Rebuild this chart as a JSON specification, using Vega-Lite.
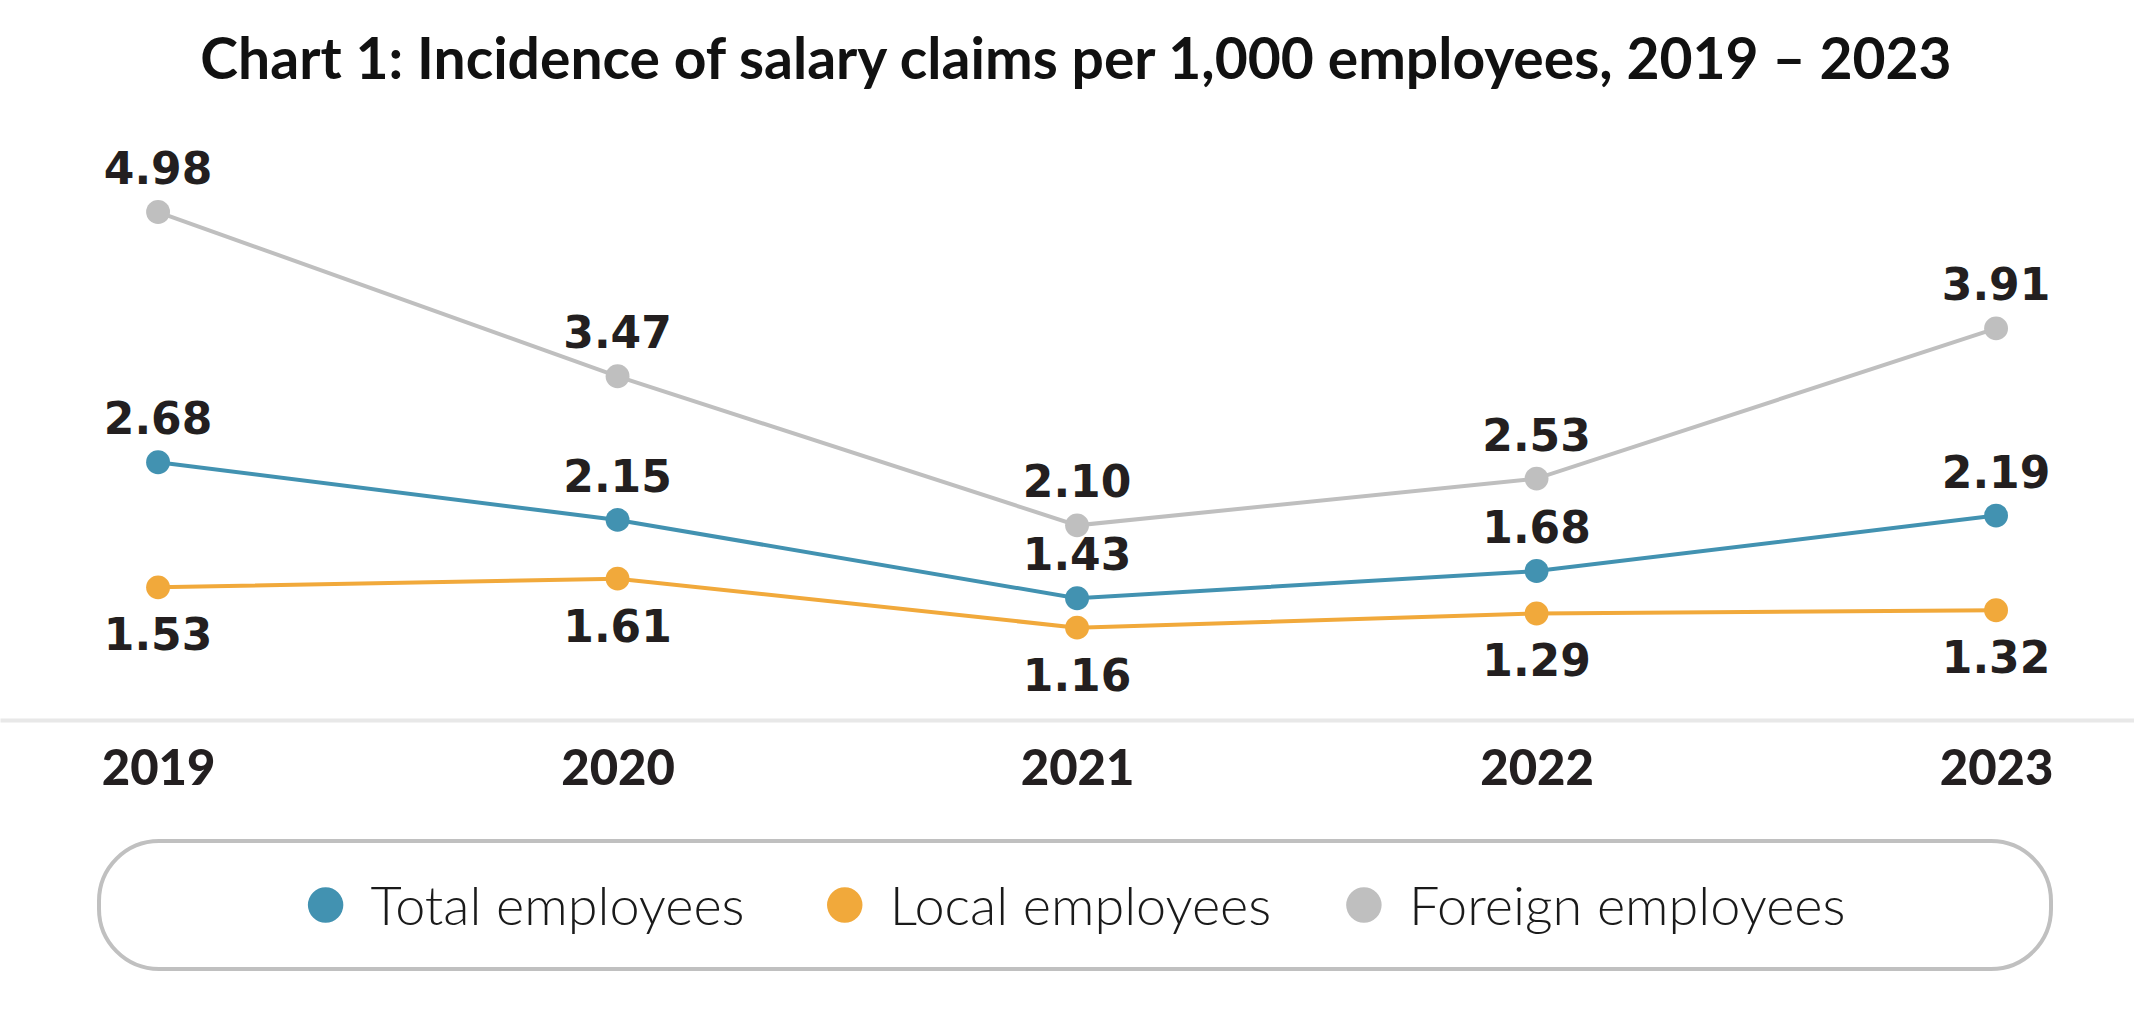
{
  "$schema": "https://vega.github.io/schema/vega-lite/v6.json",
  "padding": {"left": 0, "top": 33, "right": -18, "bottom": 0},
  "background": "white",
  "title": {
    "text": "Chart 1: Incidence of salary claims per 1,000 employees, 2019 – 2023",
    "font": "Lato",
    "fontWeight": "bold",
    "fontSize": 57,
    "color": "#111111",
    "anchor": "middle",
    "dx": 0,
    "offset": 13,
    "baseline": "alphabetic"
  },
  "config": {
    "view": {"stroke": null},
    "axis": {"grid": false}
  },
  "datasets": {
    "claims": [
      {"year": "2019", "series": "Total employees", "value": 2.68, "pos": "above"},
      {"year": "2020", "series": "Total employees", "value": 2.15, "pos": "above"},
      {"year": "2021", "series": "Total employees", "value": 1.43, "pos": "above"},
      {"year": "2022", "series": "Total employees", "value": 1.68, "pos": "above"},
      {"year": "2023", "series": "Total employees", "value": 2.19, "pos": "above"},
      {"year": "2019", "series": "Local employees", "value": 1.53, "pos": "below"},
      {"year": "2020", "series": "Local employees", "value": 1.61, "pos": "below"},
      {"year": "2021", "series": "Local employees", "value": 1.16, "pos": "below"},
      {"year": "2022", "series": "Local employees", "value": 1.29, "pos": "below"},
      {"year": "2023", "series": "Local employees", "value": 1.32, "pos": "below"},
      {"year": "2019", "series": "Foreign employees", "value": 4.98, "pos": "above"},
      {"year": "2020", "series": "Foreign employees", "value": 3.47, "pos": "above"},
      {"year": "2021", "series": "Foreign employees", "value": 2.10, "pos": "above"},
      {"year": "2022", "series": "Foreign employees", "value": 2.53, "pos": "above"},
      {"year": "2023", "series": "Foreign employees", "value": 3.91, "pos": "above"}
    ],
    "legend": [
      {"series": "Total employees"},
      {"series": "Local employees"},
      {"series": "Foreign employees"}
    ]
  },
  "spacing": 45,
  "center": true,
  "vconcat": [
    {
      "width": 2134,
      "height": 565,
      "data": {"name": "claims"},
      "encoding": {
        "x": {
          "field": "year",
          "type": "ordinal",
          "scale": {"type": "point", "padding": 0.3221, "align": 0.534},
          "axis": {
            "title": null,
            "labelAngle": 0,
            "labelFont": "Lato",
            "labelFontWeight": 900,
            "labelFontSize": 49,
            "labelColor": "#231f20",
            "labelBaseline": "alphabetic",
            "labelPadding": 64,
            "ticks": false,
            "tickSize": 0,
            "domainColor": "#e8e8e8",
            "domainWidth": 4
          }
        },
        "y": {
          "field": "value",
          "type": "quantitative",
          "scale": {"domain": [0.311, 5.504], "nice": false, "zero": false},
          "axis": {
            "orient": "right",
            "title": null,
            "labels": false,
            "domain": false,
            "ticks": true,
            "tickSize": 18,
            "tickOpacity": 0,
            "tickCount": 2
          }
        },
        "color": {
          "field": "series",
          "type": "nominal",
          "scale": {
            "domain": ["Total employees", "Local employees", "Foreign employees"],
            "range": ["#4292b1", "#f1a93b", "#bfbfbf"]
          },
          "legend": null
        }
      },
      "layer": [
        {"mark": {"type": "line", "strokeWidth": 4}},
        {"mark": {"type": "circle", "size": 570, "opacity": 1}},
        {
          "transform": [{"filter": "datum.pos == 'above'"}],
          "mark": {"type": "text", "font": "DejaVu Sans", "fontWeight": "bold", "fontSize": 44, "baseline": "alphabetic", "align": "center", "dy": -28},
          "encoding": {"text": {"field": "value", "type": "quantitative", "format": ".2f"}, "color": {"value": "#231f20"}}
        },
        {
          "transform": [{"filter": "datum.pos == 'below'"}],
          "mark": {"type": "text", "font": "DejaVu Sans", "fontWeight": "bold", "fontSize": 44, "baseline": "alphabetic", "align": "center", "dy": 63},
          "encoding": {"text": {"field": "value", "type": "quantitative", "format": ".2f"}, "color": {"value": "#231f20"}}
        }
      ]
    },
    {
      "width": 1952,
      "height": 128,
      "view": {"stroke": "#c0c0c0", "strokeWidth": 4, "cornerRadius": 60, "fill": "white"},
      "data": {"name": "legend"},
      "encoding": {
        "x": {
          "field": "series",
          "type": "nominal",
          "sort": ["Total employees", "Local employees", "Foreign employees"],
          "scale": {"type": "point", "padding": 0.880, "align": 0.248},
          "axis": null
        }
      },
      "layer": [
        {
          "mark": {"type": "circle", "size": 1257, "opacity": 1},
          "encoding": {
            "color": {
              "field": "series",
              "type": "nominal",
              "scale": {
                "domain": ["Total employees", "Local employees", "Foreign employees"],
                "range": ["#4292b1", "#f1a93b", "#bfbfbf"]
              },
              "legend": null
            }
          }
        },
        {
          "mark": {"type": "text", "font": "Lato", "fontWeight": 300, "fontSize": 54, "align": "left", "baseline": "alphabetic", "dx": 45, "dy": 20, "color": "#1a1a1a"},
          "encoding": {"text": {"field": "series", "type": "nominal"}}
        }
      ]
    }
  ]
}
